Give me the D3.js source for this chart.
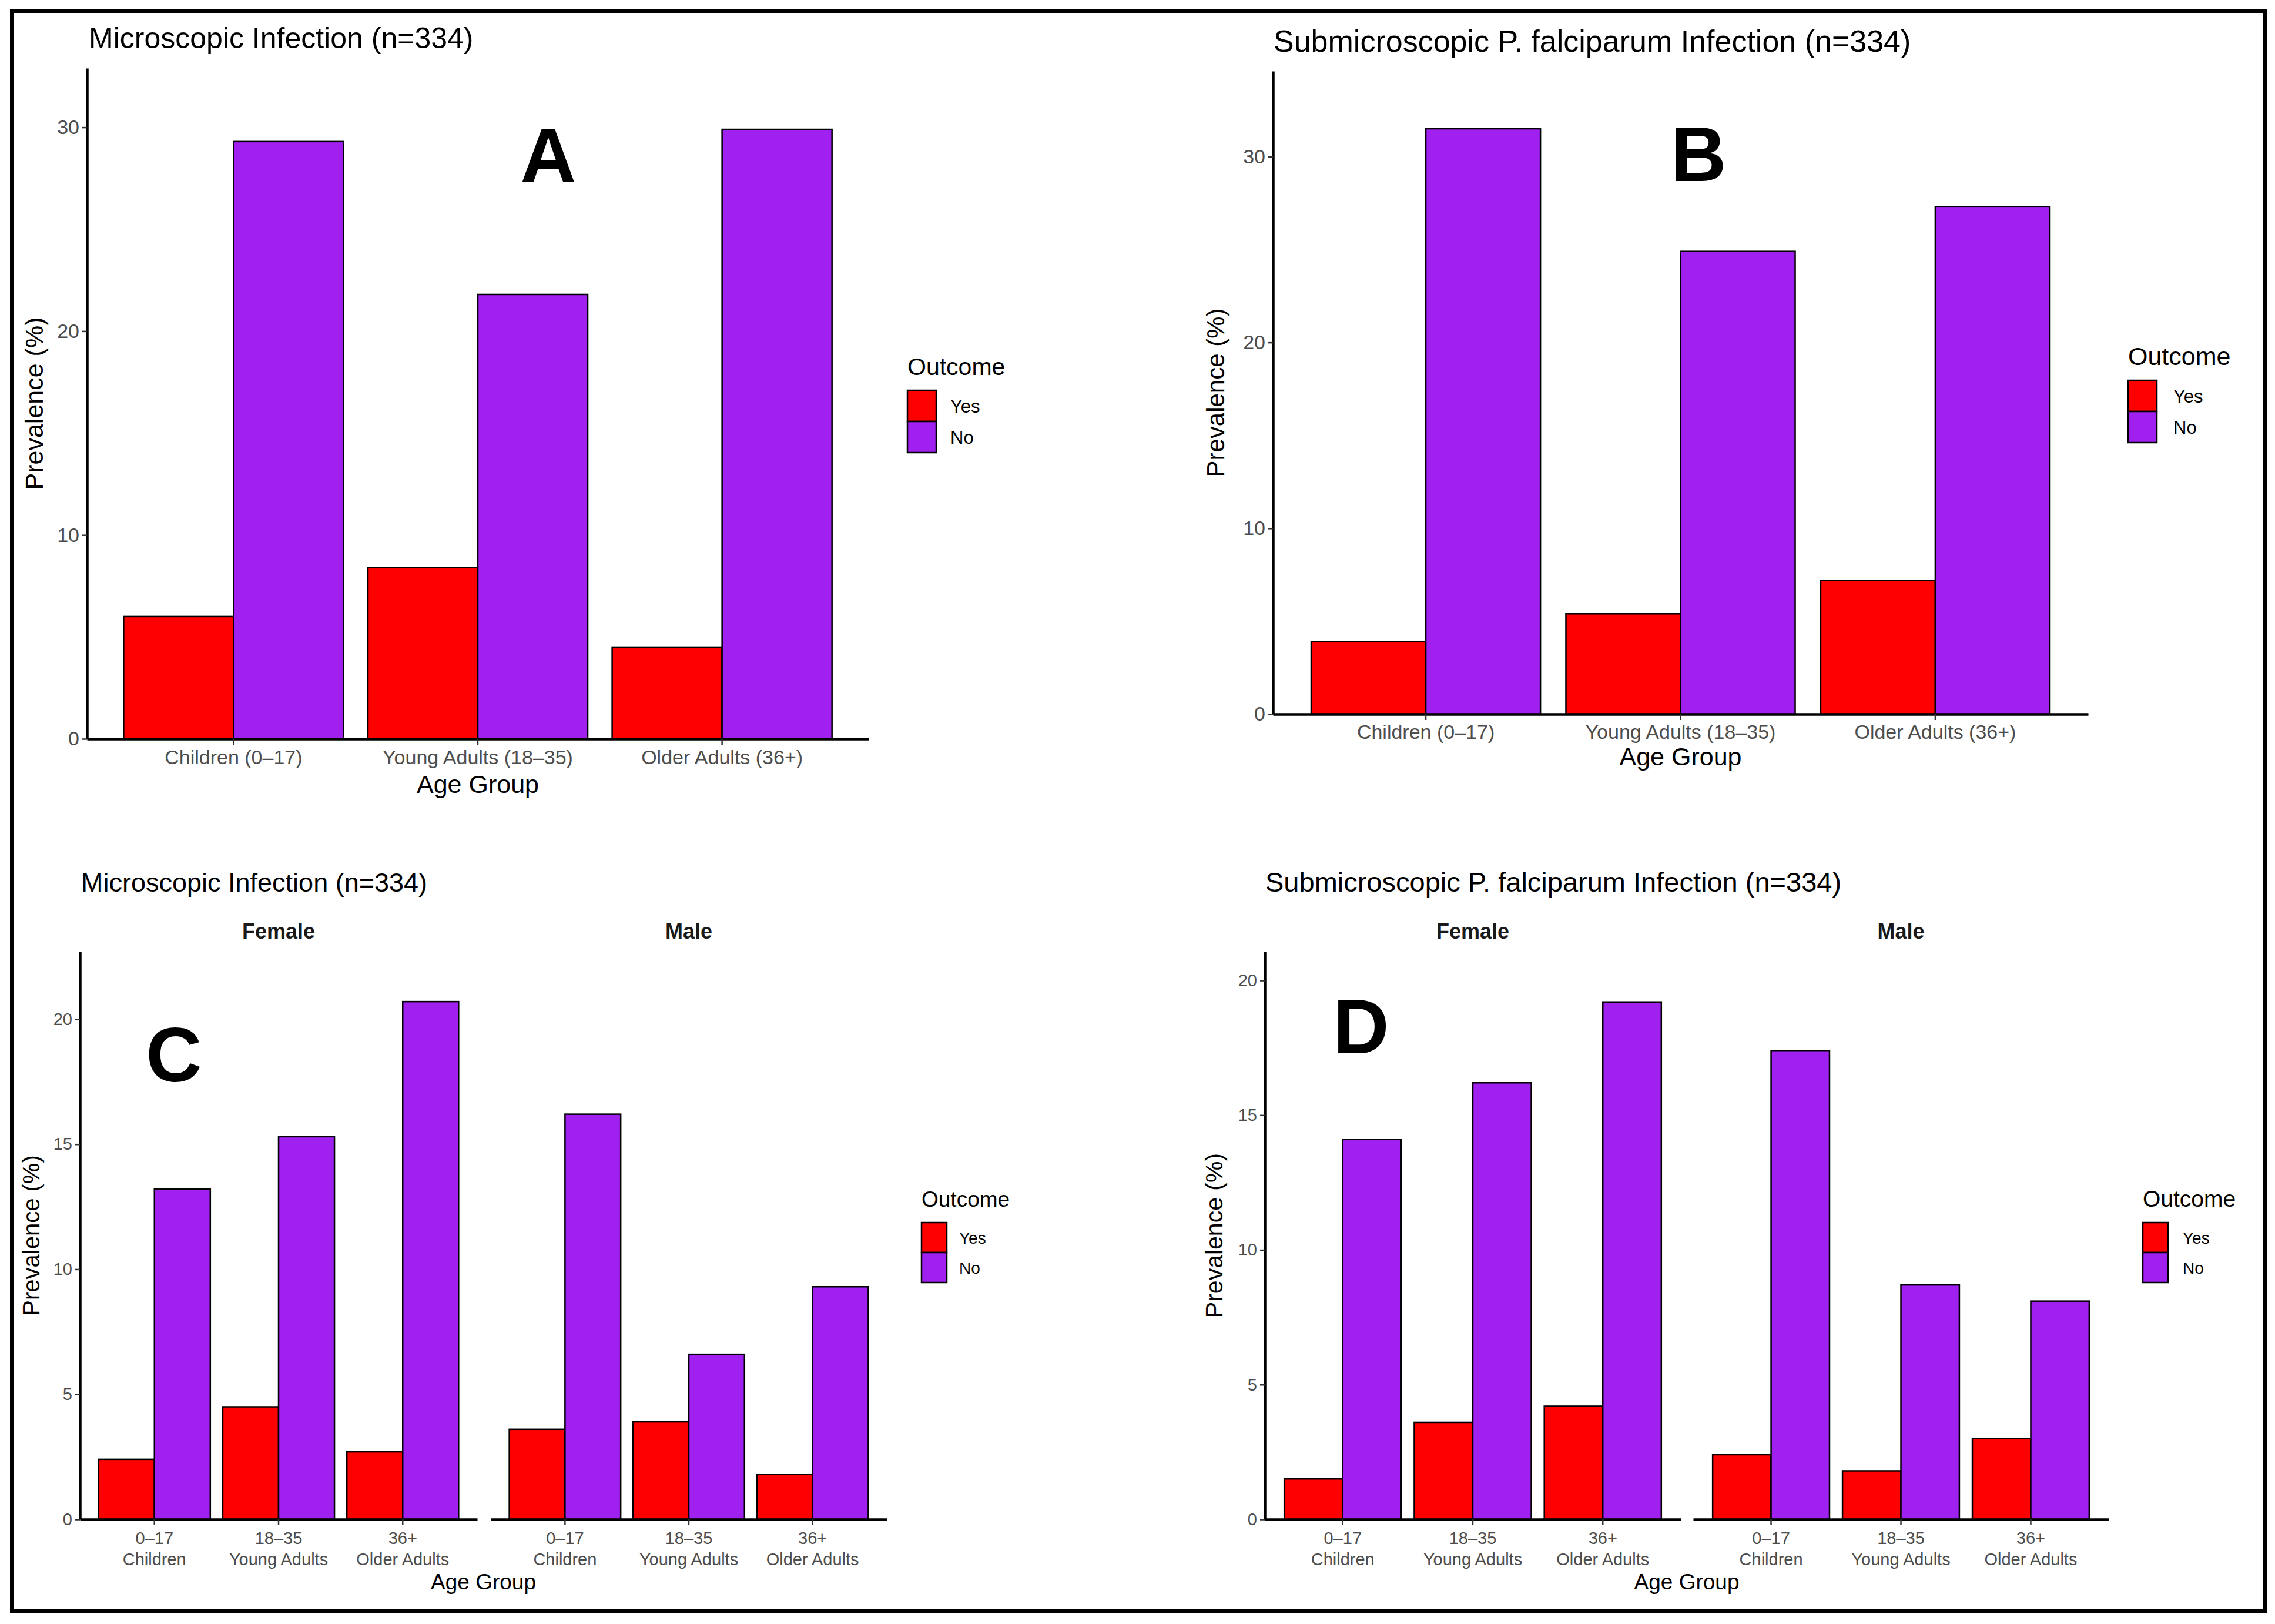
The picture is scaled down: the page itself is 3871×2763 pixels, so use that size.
<!DOCTYPE html>
<html><head><meta charset="utf-8">
<script src="https://cdn.jsdelivr.net/npm/d3@7"></script>
<style>
body{margin:0;background:#fff}
text{font-family:"Liberation Sans",Arial,Helvetica,sans-serif}
</style>
</head><body>
<svg id="chart" width="3871" height="2763"></svg>
<script>
// ---------------- DATA ----------------
const ageGroups = ["Children (0–17)", "Young Adults (18–35)", "Older Adults (36+)"];
const ageShort = [["0–17", "Children"], ["18–35", "Young Adults"], ["36+", "Older Adults"]];
const outcomes = ["Yes", "No"];
const sexes = ["Female", "Male"];

// Panel A: microscopic infection by age group (%)
const microYes = [6.0, 8.4, 4.5];
const microNo = [29.3, 21.8, 29.9];
// Panel B: submicroscopic P. falciparum infection by age group (%)
const subYes = [3.9, 5.4, 7.2];
const subNo = [31.5, 24.9, 27.3];
// Panel C: microscopic by sex and age group (%)
const microFemaleYes = [2.4, 4.5, 2.7];
const microFemaleNo = [13.2, 15.3, 20.7];
const microMaleYes = [3.6, 3.9, 1.8];
const microMaleNo = [16.2, 6.6, 9.3];
// Panel D: submicroscopic by sex and age group (%)
const subFemaleYes = [1.5, 3.6, 4.2];
const subFemaleNo = [14.1, 16.2, 19.2];
const subMaleYes = [2.4, 1.8, 3.0];
const subMaleNo = [17.4, 8.7, 8.1];

const ticksAB = [0, 10, 20, 30];
const ticksCD = [0, 5, 10, 15, 20];
const titleMicro = "Microscopic Infection (n=334)";
const titleSub = "Submicroscopic P. falciparum Infection (n=334)";
const xTitle = "Age Group";
const yTitle = "Prevalence (%)";
const legendTitle = "Outcome";

// ---------------- DRAWING ----------------
const svg = d3.select("#chart");
svg.append("rect").attr("width", 3871).attr("height", 2763).attr("fill", "#fff");
svg.append("rect").attr("x", 20).attr("y", 19).attr("width", 3834).attr("height", 2722)
  .attr("fill", "none").attr("stroke", "#000").attr("stroke-width", 6);

const fillColor = d3.scaleOrdinal().domain(outcomes).range(["#FF0000", "#A020F0"]);
const tickGrey = "#4D4D4D";

function drawPanel(cfg) {
  const y = d3.scaleLinear().domain([0, cfg.ymax]).range([cfg.bottom, cfg.top]);

  cfg.facets.forEach((f, fi) => {
    const x = d3.scaleBand().domain(ageGroups).range([f.x0, f.x1])
      .paddingInner(0.1).paddingOuter(0.15);
    const xi = d3.scaleBand().domain(outcomes).range([0, x.bandwidth()]);
    const rows = ageGroups.map((a, j) => ({
      age: a,
      vals: outcomes.map(o => ({ o: o, v: o === "Yes" ? f.yes[j] : f.no[j] }))
    }));

    const gb = svg.append("g");
    gb.selectAll("g").data(rows).join("g")
      .attr("transform", d => `translate(${x(d.age)},0)`)
      .selectAll("rect").data(d => d.vals).join("rect")
      .attr("x", d => xi(d.o)).attr("width", xi.bandwidth())
      .attr("y", d => y(d.v)).attr("height", d => y(0) - y(d.v))
      .attr("fill", d => fillColor(d.o))
      .attr("stroke", "#000").attr("stroke-width", 2.5);

    // x axis
    const ax = svg.append("g").attr("transform", `translate(0,${cfg.bottom})`)
      .call(d3.axisBottom(x).tickSizeInner(10).tickSizeOuter(0));
    ax.select(".domain").attr("stroke", "#000").attr("stroke-width", 4.5);
    ax.selectAll(".tick line").attr("stroke", "#333").attr("stroke-width", 2.5);
    const tt = ax.selectAll(".tick text")
      .attr("fill", tickGrey).attr("font-size", cfg.tickSize)
      .attr("dy", null).attr("y", cfg.xLabelBase - cfg.bottom);
    if (cfg.twoLine) {
      tt.text(null).each(function (d) {
        const j = ageGroups.indexOf(d);
        const t = d3.select(this);
        t.append("tspan").attr("x", 0).attr("y", cfg.xLabelBase - cfg.bottom).text(ageShort[j][0]);
        t.append("tspan").attr("x", 0).attr("y", cfg.xLabelBase2 - cfg.bottom).text(ageShort[j][1]);
      });
    }

    // strip label
    if (f.strip) {
      svg.append("text").attr("x", (f.x0 + f.x1) / 2).attr("y", cfg.stripBase)
        .attr("text-anchor", "middle").attr("font-weight", "bold")
        .attr("font-size", cfg.stripSize).attr("fill", "#1A1A1A").text(f.strip);
    }

    // y axis only on first facet
    if (fi === 0) {
      const ay = svg.append("g").attr("transform", `translate(${f.x0},0)`)
        .call(d3.axisLeft(y).tickValues(cfg.ticks).tickSizeInner(8).tickSizeOuter(0).tickPadding(5));
      ay.select(".domain").attr("stroke", "#000").attr("stroke-width", 4.5);
      ay.selectAll(".tick line").attr("stroke", "#333").attr("stroke-width", 2.5);
      ay.selectAll(".tick text").attr("fill", tickGrey).attr("font-size", cfg.tickSize);
    }
  });

  const left = cfg.facets[0].x0, right = cfg.facets[cfg.facets.length - 1].x1;

  // title
  svg.append("text").attr("x", cfg.titleX).attr("y", cfg.titleBase)
    .attr("font-size", cfg.titleSize).attr("fill", "#000").text(cfg.title);

  // x title
  svg.append("text").attr("x", (left + right) / 2).attr("y", cfg.xTitleBase)
    .attr("text-anchor", "middle").attr("font-size", cfg.axisTitleSize).attr("fill", "#000").text(xTitle);

  // y title
  svg.append("text")
    .attr("transform", `translate(${cfg.yTitleX},${(cfg.top + cfg.bottom) / 2}) rotate(-90)`)
    .attr("text-anchor", "middle").attr("font-size", cfg.yTitleSize).attr("fill", "#000").text(yTitle);

  // panel letter
  svg.append("text").attr("x", cfg.letterX).attr("y", cfg.letterBase)
    .attr("text-anchor", "middle").attr("font-weight", "bold")
    .attr("font-size", 132).attr("fill", "#000").text(cfg.letter);

  // legend
  const lg = cfg.legend;
  svg.append("text").attr("x", lg.x).attr("y", lg.titleBase)
    .attr("font-size", lg.titleSize).attr("fill", "#000").text(legendTitle);
  outcomes.forEach((o, k) => {
    svg.append("rect").attr("x", lg.x).attr("y", lg.keyTop + k * lg.keyH)
      .attr("width", lg.keyW).attr("height", lg.keyH)
      .attr("fill", fillColor(o)).attr("stroke", "#000").attr("stroke-width", 2.5);
    svg.append("text").attr("x", lg.labelX).attr("y", lg.keyTop + k * lg.keyH + lg.keyH / 2)
      .attr("dy", "0.36em").attr("font-size", lg.labelSize).attr("fill", "#000").text(o);
  });
}

// Panel A
drawPanel({
  facets: [{ x0: 148, x1: 1478, yes: microYes, no: microNo }],
  top: 116, bottom: 1257, ymax: 32.9, ticks: ticksAB,
  tickSize: 34, xLabelBase: 1300, twoLine: false,
  title: titleMicro, titleX: 151, titleBase: 82, titleSize: 50,
  xTitleBase: 1349, axisTitleSize: 43, yTitleX: 73, yTitleSize: 43,
  letter: "A", letterX: 933, letterBase: 310,
  legend: { x: 1544, titleBase: 638, titleSize: 41, keyTop: 664, keyW: 49, keyH: 53, labelX: 1617, labelSize: 31 }
});

// Panel B
drawPanel({
  facets: [{ x0: 2166, x1: 3553, yes: subYes, no: subNo }],
  top: 121, bottom: 1215, ymax: 34.6, ticks: ticksAB,
  tickSize: 34, xLabelBase: 1257, twoLine: false,
  title: titleSub, titleX: 2167, titleBase: 88, titleSize: 52,
  xTitleBase: 1302, axisTitleSize: 43, yTitleX: 2083, yTitleSize: 42,
  letter: "B", letterX: 2890, letterBase: 308,
  legend: { x: 3621, titleBase: 621, titleSize: 43, keyTop: 647, keyW: 49, keyH: 53, labelX: 3698, labelSize: 31 }
});

// Panel C
drawPanel({
  facets: [
    { x0: 136, x1: 812, yes: microFemaleYes, no: microFemaleNo, strip: sexes[0] },
    { x0: 835, x1: 1509, yes: microMaleYes, no: microMaleNo, strip: sexes[1] }
  ],
  top: 1619, bottom: 2585, ymax: 22.7, ticks: ticksCD,
  tickSize: 29, xLabelBase: 2627, xLabelBase2: 2663, twoLine: true,
  stripBase: 1597, stripSize: 36,
  title: titleMicro, titleX: 138, titleBase: 1517, titleSize: 45,
  xTitleBase: 2704, axisTitleSize: 37, yTitleX: 67, yTitleSize: 40,
  letter: "C", letterX: 296, letterBase: 1840,
  legend: { x: 1568, titleBase: 2053, titleSize: 37, keyTop: 2080, keyW: 43, keyH: 51, labelX: 1632, labelSize: 28 }
});

// Panel D
drawPanel({
  facets: [
    { x0: 2152, x1: 2860, yes: subFemaleYes, no: subFemaleNo, strip: sexes[0] },
    { x0: 2881, x1: 3588, yes: subMaleYes, no: subMaleNo, strip: sexes[1] }
  ],
  top: 1619, bottom: 2585, ymax: 21.07, ticks: ticksCD,
  tickSize: 29, xLabelBase: 2627, xLabelBase2: 2663, twoLine: true,
  stripBase: 1597, stripSize: 36,
  title: titleSub, titleX: 2153, titleBase: 1517, titleSize: 47,
  xTitleBase: 2704, axisTitleSize: 37, yTitleX: 2080, yTitleSize: 41,
  letter: "D", letterX: 2316, letterBase: 1792,
  legend: { x: 3646, titleBase: 2053, titleSize: 39, keyTop: 2080, keyW: 43, keyH: 51, labelX: 3714, labelSize: 28 }
});
</script>
</body></html>
